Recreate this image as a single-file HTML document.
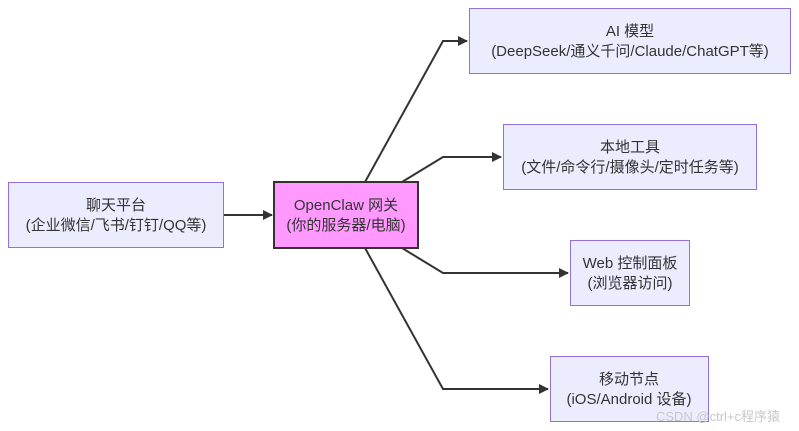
<!DOCTYPE html>
<html><head><meta charset="utf-8"><style>
html,body{margin:0;padding:0;background:#fff;}
body{width:799px;height:431px;overflow:hidden;position:relative;}
svg{position:absolute;left:0;top:0;}
text{font-family:"Liberation Sans","Noto Sans CJK SC",sans-serif;font-size:15px;fill:#333;text-anchor:middle;}
</style></head><body>
<svg width="799" height="431" viewBox="0 0 799 431">
<defs><marker id="a" markerWidth="10" markerHeight="10" refX="9" refY="5" orient="auto" markerUnits="userSpaceOnUse"><path d="M0,0 L10,5 L0,10 z" fill="#333"/></marker></defs>
<g fill="none" stroke="#333" stroke-width="2">
<path d="M224,215 L272,215" marker-end="url(#a)"/>
<path d="M365,182 L443,41 L467,41" marker-end="url(#a)"/>
<path d="M402,182 L443,157 L501,157" marker-end="url(#a)"/>
<path d="M402,248 L443,273 L568,273" marker-end="url(#a)"/>
<path d="M365,248 L443,389 L548,389" marker-end="url(#a)"/>
</g>
<g fill="#ececff" stroke="#9370db" stroke-width="1">
<rect x="8.5" y="182.5" width="215" height="65"/>
<rect x="469.5" y="8.5" width="321" height="65"/>
<rect x="503.5" y="124.5" width="253" height="65"/>
<rect x="570.5" y="240.5" width="119" height="65"/>
<rect x="550.5" y="356.5" width="158" height="65"/>
</g>
<rect x="274" y="182" width="144" height="66" fill="#ff99ff" stroke="#333" stroke-width="2"/>
<text x="116" y="210">聊天平台</text><text x="116" y="230">(企业微信/飞书/钉钉/QQ等)</text>
<text x="346" y="210">OpenClaw 网关</text><text x="346" y="230">(你的服务器/电脑)</text>
<text x="630" y="36">AI 模型</text><text x="630" y="56">(DeepSeek/通义千问/Claude/ChatGPT等)</text>
<text x="630" y="152">本地工具</text><text x="630" y="172">(文件/命令行/摄像头/定时任务等)</text>
<text x="630" y="268">Web 控制面板</text><text x="630" y="288">(浏览器访问)</text>
<text x="629" y="384">移动节点</text><text x="629" y="404">(iOS/Android 设备)</text>
<text x="718" y="421" style="font-size:13px;fill:#c8c8c8">CSDN @ctrl+c程序猿</text>
</svg>
</body></html>
